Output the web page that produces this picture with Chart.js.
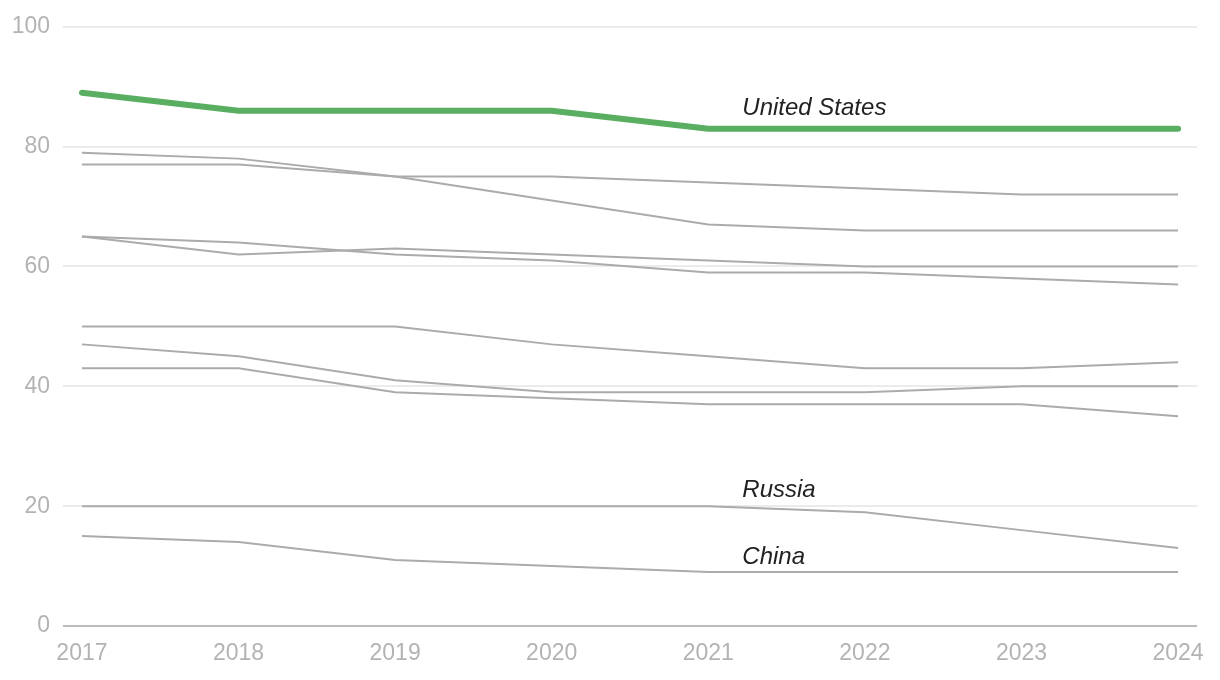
<!DOCTYPE html>
<html>
<head>
<meta charset="utf-8">
<script src="https://cdn.jsdelivr.net/npm/chart.js@4"></script>
<style>
  html, body { margin: 0; padding: 0; background: #fff; }
  #wrap { width: 1220px; height: 680px; }
</style>
</head>
<body>
<div id="wrap"><canvas id="c" width="1220" height="680"></canvas></div>
<script>
// ---- data ----
const years = [2017, 2018, 2019, 2020, 2021, 2022, 2023, 2024];
const yTicks = [0, 20, 40, 60, 80, 100];

const unitedStates = [89, 86, 86, 86, 83, 83, 83, 83];
const russia       = [20, 20, 20, 20, 20, 19, 16, 13];
const china        = [15, 14, 11, 10,  9,  9,  9,  9];

const otherA = [79, 78, 75, 71, 67, 66, 66, 66];
const otherB = [77, 77, 75, 75, 74, 73, 72, 72];
const otherC = [65, 64, 62, 61, 59, 59, 58, 57];
const otherD = [65, 62, 63, 62, 61, 60, 60, 60];
const otherE = [50, 50, 50, 47, 45, 43, 43, 44];
const otherF = [47, 45, 41, 39, 39, 39, 40, 40];
const otherG = [43, 43, 39, 38, 37, 37, 37, 35];

const labelled = [
  { name: 'United States', values: unitedStates, dy: -14 },
  { name: 'Russia',        values: russia,       dy: -9 },
  { name: 'China',         values: china,        dy: -8 }
];
const labelYear = 2021;

// ---- styles ----
const GREY = '#ababab';
const GREEN = '#5aae61';

const pts = arr => years.map((y, i) => ({ x: y, y: arr[i] }));
const greyDs = arr => ({
  data: pts(arr), borderColor: GREY, borderWidth: 2, pointRadius: 0,
  tension: 0, fill: false, clip: false, order: 2
});

const datasets = [
  greyDs(otherA), greyDs(otherB), greyDs(otherC), greyDs(otherD),
  greyDs(otherE), greyDs(otherF), greyDs(otherG),
  greyDs(russia), greyDs(china),
  { data: pts(unitedStates), borderColor: GREEN, borderWidth: 6, pointRadius: 0,
    borderCapStyle: 'round', borderJoinStyle: 'round', tension: 0, fill: false,
    clip: false, order: 1 }
];

const labelPlugin = {
  id: 'seriesLabels',
  afterDatasetsDraw(chart) {
    const ctx = chart.ctx, xs = chart.scales.x, ys = chart.scales.y;
    const idx = years.indexOf(labelYear);
    ctx.save();
    ctx.font = 'italic 24px "Liberation Sans", Arial, sans-serif';
    ctx.fillStyle = '#222222';
    ctx.textAlign = 'left';
    ctx.textBaseline = 'alphabetic';
    labelled.forEach(l => {
      const x = xs.getPixelForValue(labelYear) + 34;
      const y = ys.getPixelForValue(l.values[idx]) + l.dy;
      ctx.fillText(l.name, x, y);
    });
    ctx.restore();
  }
};

new Chart(document.getElementById('c'), {
  type: 'line',
  data: { datasets },
  options: {
    responsive: false,
    animation: false,
    events: [],
    layout: { padding: { left: 0, right: 23, top: 26, bottom: 0 } },
    plugins: { legend: { display: false }, tooltip: { enabled: false } },
    scales: {
      x: {
        type: 'linear',
        min: 2016.879,
        max: 2024.121,
        afterBuildTicks: s => { s.ticks = years.map(v => ({ value: v })); },
        afterFit: s => { s.height = 54; },
        grid: { display: false, drawTicks: false },
        border: { display: false },
        ticks: {
          padding: 14,
          color: '#b3b3b3',
          font: { family: '"Liberation Sans", Arial, sans-serif', size: 23 },
          callback: v => String(v),
          maxRotation: 0, autoSkip: false
        }
      },
      y: {
        min: 0, max: 100,
        afterBuildTicks: s => { s.ticks = yTicks.map(v => ({ value: v })); },
        afterFit: s => { s.width = 63; },
        grid: {
          drawTicks: false,
          color: c => (c.tick && c.tick.value === 0) ? '#bdbdbd' : '#ebebeb',
          lineWidth: c => (c.tick && c.tick.value === 0) ? 2 : 2
        },
        border: { display: false },
        ticks: {
          padding: 13,
          color: '#b3b3b3',
          font: { family: '"Liberation Sans", Arial, sans-serif', size: 23 }
        }
      }
    }
  },
  plugins: [labelPlugin]
});
</script>
</body>
</html>
